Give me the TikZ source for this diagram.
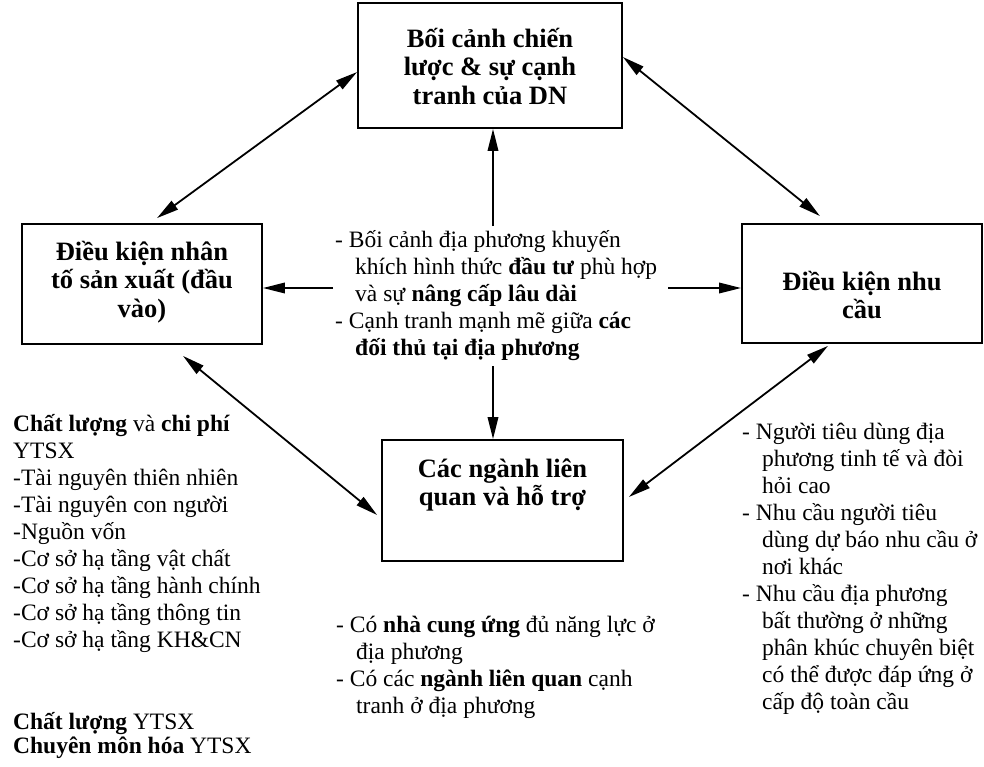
\documentclass[tikz,border=0pt]{standalone}
\usepackage{fontspec}
\setmainfont{Liberation Serif}
\usetikzlibrary{arrows.meta}
\begin{document}
\begin{tikzpicture}[x=1pt,y=-1pt,
  box/.style={draw, line width=1.8pt, inner sep=0pt},
  boxtxt/.style={font=\fontsize{26.5}{28.5}\selectfont\bfseries, align=center, inner sep=0pt, anchor=base},
  body/.style={font=\fontsize{23.5}{27}\selectfont, align=left, inner sep=0pt, anchor=base west},
  tip/.style={Triangle[length=22pt,width=10.5pt]},
  conn/.style={line width=1.8pt, -{Triangle[length=22pt,width=10.5pt]}},
  dconn/.style={line width=1.8pt, {Triangle[length=22pt,width=10.5pt]}-{Triangle[length=22pt,width=10.5pt]}}]
\useasboundingbox (0,0) rectangle (984,766);

% the four determinants
\node[box, minimum width=264pt, minimum height=125pt] (tbox) at (490,65.5) {};
\node[box, minimum width=240pt, minimum height=120pt] (lbox) at (142,284) {};
\node[box, minimum width=240pt, minimum height=119pt] (rbox) at (862,283.5) {};
\node[box, minimum width=241pt, minimum height=121pt] (bbox) at (502.5,500.5) {};

% labels are placed by the baseline of their last line
\node[boxtxt] (ttxt) at (490,104) {Bối cảnh chiến\\lược \& sự cạnh\\tranh của DN};
\node[boxtxt] (ltxt) at (142,317) {Điều kiện nhân\\tố sản xuất (đầu\\vào)};
\node[boxtxt] (rtxt) at (862,318.5) {Điều kiện nhu\\cầu};
\node[boxtxt] (btxt) at (502.5,505.5) {Các ngành liên\\quan và hỗ trợ};

% centre: context for strategy and rivalry
\node[body] (ctext) at (335,355) {- Bối cảnh địa phương khuyến\\
\hspace*{20pt}khích hình thức \textbf{đầu tư} phù hợp\\
\hspace*{20pt}và sự \textbf{nâng cấp lâu dài}\\
- Cạnh tranh mạnh mẽ giữa \textbf{các}\\
\hspace*{20pt}\textbf{đối thủ tại địa phương}};

% factor conditions
\node[body] (ftext) at (13,647) {\textbf{Chất lượng} và \textbf{chi phí}\\
YTSX\\
-Tài nguyên thiên nhiên\\
-Tài nguyên con người\\
-Nguồn vốn\\
-Cơ sở hạ tầng vật chất\\
-Cơ sở hạ tầng hành chính\\
-Cơ sở hạ tầng thông tin\\
-Cơ sở hạ tầng KH\&CN};

\node[body, font=\fontsize{23.5}{24}\selectfont] (qtext) at (13,753) {\textbf{Chất lượng} YTSX\\
\textbf{Chuyên môn hóa} YTSX};

% related and supporting industries
\node[body] (stext) at (336,713) {- Có \textbf{nhà cung ứng} đủ năng lực ở\\
\hspace*{20pt}địa phương\\
- Có các \textbf{ngành liên quan} cạnh\\
\hspace*{20pt}tranh ở địa phương};

% demand conditions
\node[body] (dtext) at (742,709) {- Người tiêu dùng địa\\
\hspace*{20pt}phương tinh tế và đòi\\
\hspace*{20pt}hỏi cao\\
- Nhu cầu người tiêu\\
\hspace*{20pt}dùng dự báo nhu cầu ở\\
\hspace*{20pt}nơi khác\\
- Nhu cầu địa phương\\
\hspace*{20pt}bất thường ở những\\
\hspace*{20pt}phân khúc chuyên biệt\\
\hspace*{20pt}có thể được đáp ứng ở\\
\hspace*{20pt}cấp độ toàn cầu};

% arrow origins around the centre text
\coordinate (cN) at (493,226);
\coordinate (cS) at (493,366);
\coordinate (cW) at (333,288);
\coordinate (cE) at (668,288);

\draw[conn] (cN) -- (tbox.south -| cN);
\draw[conn] (cS) -- (bbox.north -| cS);
\draw[conn] (cW) -- (lbox.east |- cW);
\draw[conn] (cE) -- (rbox.west |- cE);

% links between the determinants
\draw[dconn] ([xshift=15pt,yshift=5pt]lbox.north) -- ([yshift=-6.5pt]tbox.west);
\draw[dconn] ([yshift=8.5pt]tbox.east) -- ([xshift=-42pt,yshift=7pt]rbox.north);
\draw[dconn] ([xshift=41pt,yshift=-11pt]lbox.south) -- ([xshift=-4pt,yshift=-14.5pt]bbox.west);
\draw[dconn] ([xshift=-34pt,yshift=-2pt]rbox.south) -- ([xshift=5pt,yshift=3.5pt]bbox.east);
\end{tikzpicture}
\end{document}
